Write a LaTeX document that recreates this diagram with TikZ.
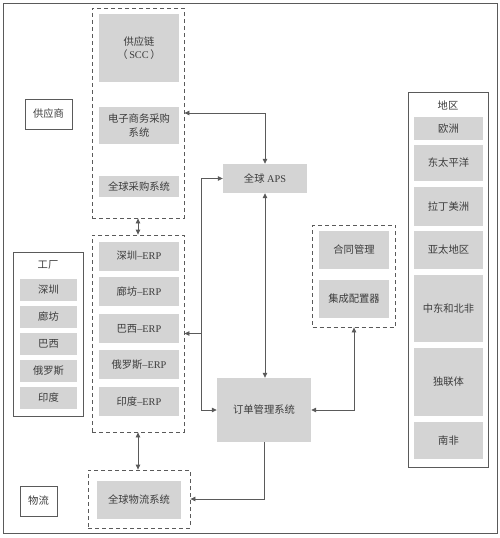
\documentclass[tikz,border=0pt]{standalone}
\usepackage{fontspec}
\setmainfont{Liberation Serif}
\newfontfamily\cjk{Noto Sans CJK SC}
\usetikzlibrary{arrows.meta}
\newcommand\zh[1]{{\cjk #1}}
\definecolor{ln}{HTML}{5A5A5A}
\definecolor{gf}{HTML}{D4D4D4}
\definecolor{tx}{HTML}{3C3C3C}
\tikzset{
  gbox/.style={fill=gf, draw=none, inner sep=0pt, align=center, text=tx, font=\fontsize{10.3}{14}\selectfont},
  wbox/.style={draw=ln, line width=0.8pt, fill=white, inner sep=0pt, align=center, text=tx, font=\fontsize{10.3}{14}\selectfont},
  dbox/.style={draw=ln, line width=0.8pt, dash pattern=on 4pt off 3pt, inner sep=0pt},
  lbl/.style={inner sep=0pt, text=tx, font=\fontsize{10.3}{14}\selectfont},
  conn/.style={draw=ln, line width=0.8pt, arrows={-Triangle[length=5pt,width=4.5pt]}},
  dconn/.style={draw=ln, line width=0.8pt, arrows={Triangle[length=5pt,width=4.5pt]-Triangle[length=5pt,width=4.5pt]}},
}
\begin{document}
\begin{tikzpicture}[x=1pt,y=-1pt]
\useasboundingbox (0,0) rectangle (500,538);
% outer frame
\node[draw=ln, line width=0.8pt, inner sep=0pt, minimum width=494pt, minimum height=530pt] (frame) at (250,268) {};

% top dashed group
\node[dbox, minimum width=92pt, minimum height=210pt] (topdash) at (138,113) {};
\node[gbox, minimum width=80pt, minimum height=68pt] (scc) at (139,48) {\zh{供应链}\\[-1pt]\zh{（}\,SCC\,\zh{）}};
\node[gbox, minimum width=80pt, minimum height=37pt] (ecom) at (139,125.5) {\zh{电子商务采购}\\\zh{系统}};
\node[gbox, minimum width=80pt, minimum height=21pt] (gp) at (139,186.5) {\zh{全球采购系统}};

\node[wbox, minimum width=47pt, minimum height=30pt] (supplier) at (48.5,114) {\zh{供应商}};

% APS and order
\node[gbox, minimum width=84pt, minimum height=29pt] (aps) at (265,178.5) {\zh{全球} APS};
\node[gbox, minimum width=94pt, minimum height=64pt] (order) at (264,410) {\zh{订单管理系统}};

% contract group
\node[dbox, minimum width=83pt, minimum height=102pt] (cdash) at (354,276) {};
\node[gbox, minimum width=70pt, minimum height=38pt] (contract) at (354,250) {\zh{合同管理}};
\node[gbox, minimum width=70pt, minimum height=38pt] (config) at (354,299) {\zh{集成配置器}};

% region
\node[wbox, minimum width=80pt, minimum height=375pt] (region) at (448,279.5) {};
\node[lbl] (regiont) at (448,105) {\zh{地区}};
\node[gbox, minimum width=69pt, minimum height=23pt] (r1) at (448.5,128.5) {\zh{欧洲}};
\node[gbox, minimum width=69pt, minimum height=36pt] (r2) at (448.5,163) {\zh{东太平洋}};
\node[gbox, minimum width=69pt, minimum height=39pt] (r3) at (448.5,206.5) {\zh{拉丁美洲}};
\node[gbox, minimum width=69pt, minimum height=38pt] (r4) at (448.5,250) {\zh{亚太地区}};
\node[gbox, minimum width=69pt, minimum height=67pt] (r5) at (448.5,308.5) {\zh{中东和北非}};
\node[gbox, minimum width=69pt, minimum height=68pt] (r6) at (448.5,382) {\zh{独联体}};
\node[gbox, minimum width=69pt, minimum height=37pt] (r7) at (448.5,440.5) {\zh{南非}};

% factory
\node[wbox, minimum width=70pt, minimum height=164pt] (factory) at (48,334) {};
\node[lbl] (factoryt) at (48,265) {\zh{工厂}};
\node[gbox, minimum width=57pt, minimum height=22pt] (f1) at (48.5,289.5) {\zh{深圳}};
\node[gbox, minimum width=57pt, minimum height=22pt] (f2) at (48.5,316.5) {\zh{廊坊}};
\node[gbox, minimum width=57pt, minimum height=22pt] (f3) at (48.5,344) {\zh{巴西}};
\node[gbox, minimum width=57pt, minimum height=22pt] (f4) at (48.5,371) {\zh{俄罗斯}};
\node[gbox, minimum width=57pt, minimum height=22pt] (f5) at (48.5,398) {\zh{印度}};

% ERP group
\node[dbox, minimum width=92pt, minimum height=197pt] (erpdash) at (138,333.5) {};
\node[gbox, minimum width=80pt, minimum height=29pt] (e1) at (139,256) {\zh{深圳}--ERP};
\node[gbox, minimum width=80pt, minimum height=29pt] (e2) at (139,291.5) {\zh{廊坊}--ERP};
\node[gbox, minimum width=80pt, minimum height=29pt] (e3) at (139,328.5) {\zh{巴西}--ERP};
\node[gbox, minimum width=80pt, minimum height=29pt] (e4) at (139,364.5) {\zh{俄罗斯}--ERP};
\node[gbox, minimum width=80pt, minimum height=29pt] (e5) at (139,401.5) {\zh{印度}--ERP};

% logistics
\node[dbox, minimum width=102pt, minimum height=58pt] (logdash) at (139,499) {};
\node[gbox, minimum width=84pt, minimum height=38pt] (log) at (139,500) {\zh{全球物流系统}};
\node[wbox, minimum width=37pt, minimum height=30pt] (wl) at (38.5,501) {\zh{物流}};

% connectors
\coordinate (j) at (201,333.5);
\draw[dconn] (topdash.east) -| (aps.north);
\draw[dconn] (topdash.south) -- (erpdash.north);
\draw[dconn] (erpdash.south) -- (erpdash.south |- logdash.north);
\draw[conn] (j) -- (erpdash.east);
\draw[conn] (j) |- (aps.west);
\draw[conn] (j) |- (order.west);
\draw[dconn] (aps.south) -- (aps.south |- order.north);
\draw[dconn] (cdash.south) |- (order.east);
\draw[conn] (order.south) |- (logdash.east);
\end{tikzpicture}
\end{document}
